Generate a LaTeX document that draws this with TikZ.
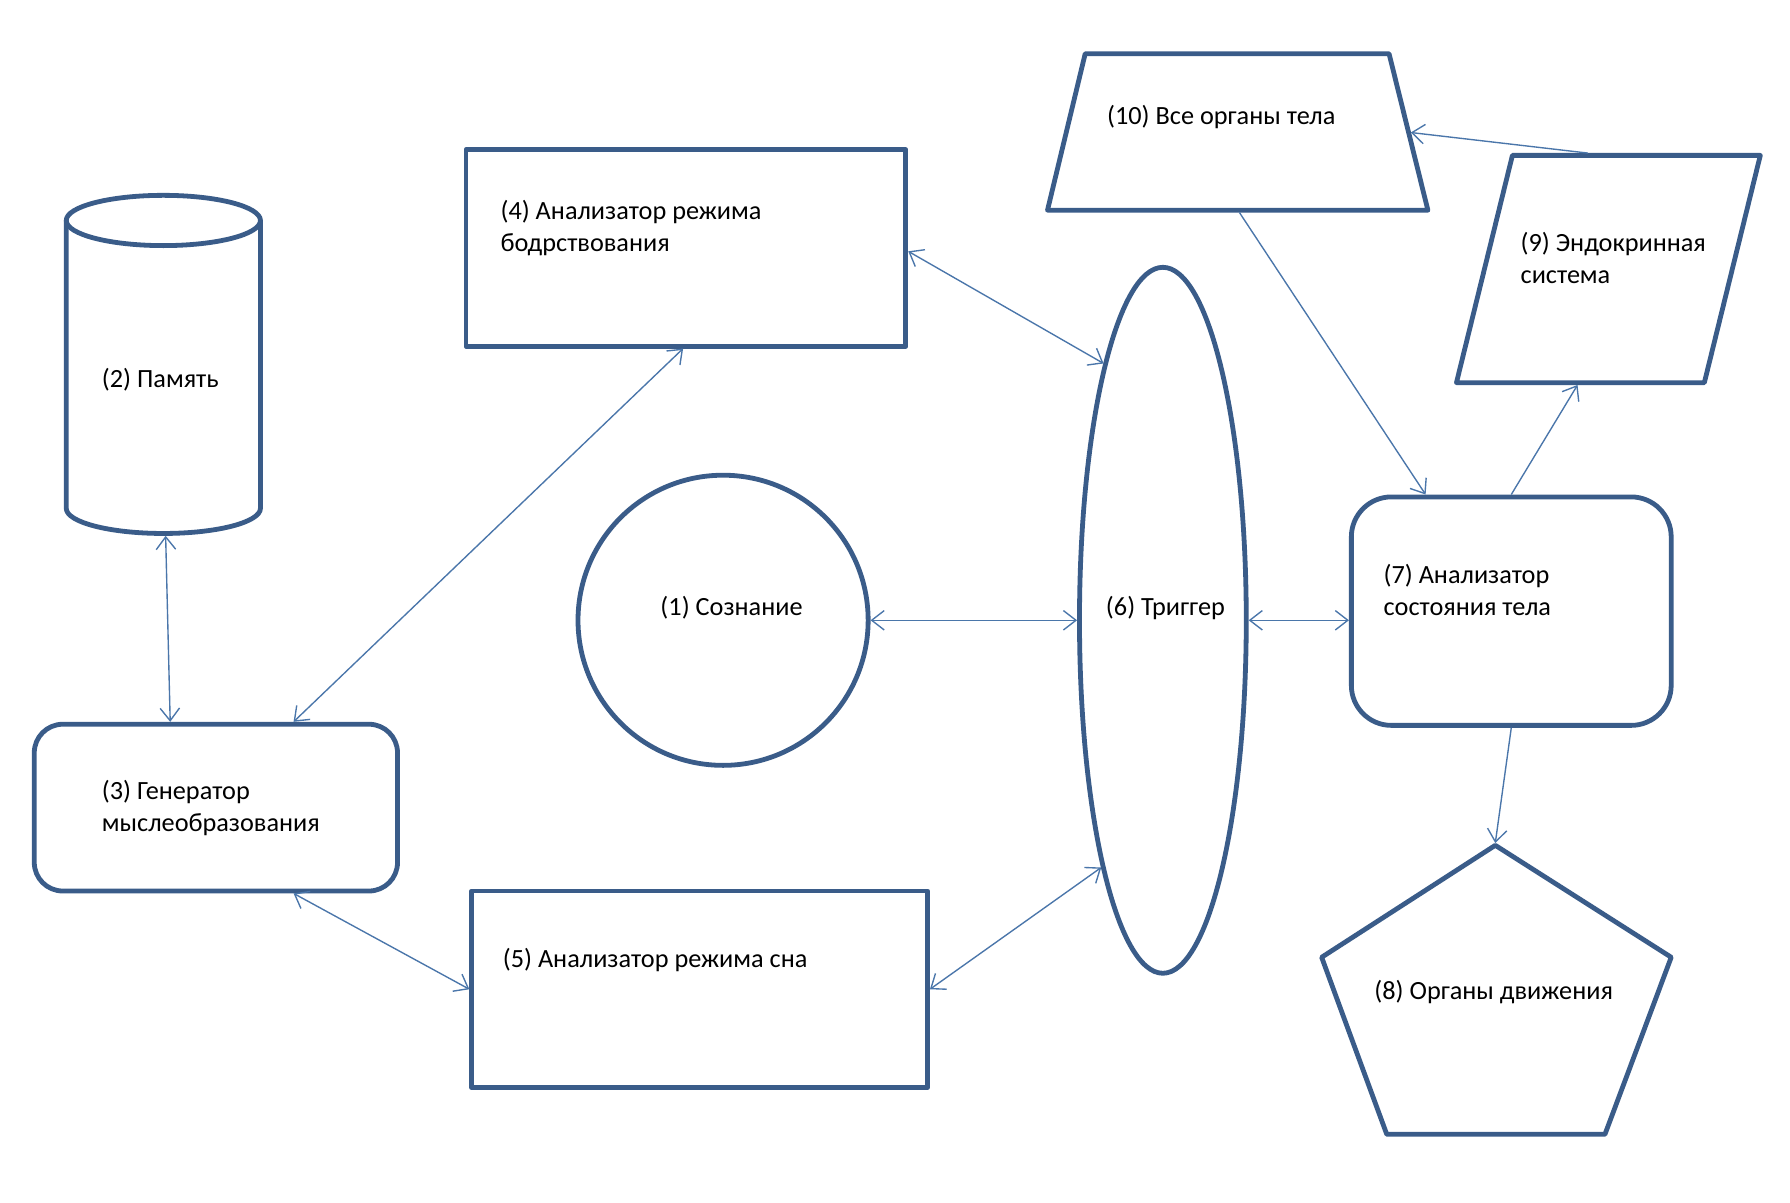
\documentclass[tikz,border=0pt]{standalone}
\usepackage{fontspec}
\setmainfont{Carlito}
\usetikzlibrary{arrows.meta,shapes.geometric,calc}
\definecolor{shapeblue}{HTML}{3A5C89}
\definecolor{linkblue}{HTML}{4A76AA}
\begin{document}
\begin{tikzpicture}[x=1pt,y=-1pt,
  shp/.style={draw=shapeblue, line width=4.2pt, line join=round},
  box/.style={shp, rectangle, inner sep=0pt},
  lbl/.style={anchor=base west, inner sep=0pt, align=left, font=\fontsize{23}{28}\selectfont},
  tip/.tip={Straight Barb[length=11pt,width=17pt]},
  link/.style={draw=linkblue, line width=1.2pt, tip-tip},
  link1/.style={draw=linkblue, line width=1.2pt, -tip},
]
\useasboundingbox[fill=white] (0,0) rectangle (1567,1053);

% shapes as nodes
\node[box, minimum width=385pt, minimum height=172pt] (n4) at (600.5,217) {};
\node[box, minimum width=399pt, minimum height=172pt] (n5) at (612.5,866) {};
\node[box, rounded corners=25pt, minimum width=318pt, minimum height=146pt] (n3) at (189,707) {};
\node[box, rounded corners=35pt, minimum width=280pt, minimum height=200pt] (n7) at (1323,535) {};
\node[shp, circle, inner sep=0pt, minimum size=254pt] (n1) at (633,543) {};
\node[shp, ellipse, inner sep=0pt, minimum width=146pt, minimum height=618pt] (n6) at (1018,543) {};

% cylinder (2)
\draw[shp] (143,193) ellipse[x radius=85, y radius=22];
\draw[shp] (58,193) -- (58,445) arc[start angle=180, end angle=0, x radius=85, y radius=22] -- (228,193);
\coordinate (n2b) at (145,469);

% pentagon (8)
\draw[shp] (1309,740) -- (1463,838) -- (1405,993) -- (1214,993) -- (1157,838) -- cycle;
\coordinate (n8t) at (1309,738);

% parallelogram (9)
\draw[shp] (1324,136) -- (1541,136) -- (1492,335) -- (1275,335) -- cycle;
\coordinate (n9b) at (1381,337);
\coordinate (n9t) at (1390,134);

% trapezium (10)
\draw[shp] (950,47) -- (1216,47) -- (1250,184) -- (917,184) -- cycle;
\coordinate (n10b) at (1085,186);
\coordinate (n10r) at (1235,116);

% labels (base anchor = baseline of the last line)
\node[lbl] (t2) at (89,339) {(2) Память};
\node[lbl] (t4) at (438,220) {(4) Анализатор режима\\бодрствования};
\node[lbl] (t1) at (578,539) {(1) Сознание};
\node[lbl] (t6) at (968,539) {(6) Триггер};
\node[lbl] (t3) at (89,728) {(3) Генератор\\мыслеобразования};
\node[lbl] (t5) at (440,847) {(5) Анализатор режима сна};
\node[lbl] (t7) at (1211,539) {(7) Анализатор\\состояния тела};
\node[lbl] (t8) at (1203,875) {(8) Органы движения};
\node[lbl] (t9) at (1331,248) {(9) Эндокринная\\система};
\node[lbl] (t10) at (969,109) {(10) Все органы тела};

% connectors
\draw[link] (n2b) -- ([xshift=-40pt]n3.north);
\draw[link] ([xshift=-2.5pt]n4.south) -- ([xshift=68pt]n3.north);
\draw[link] ([yshift=-3pt]n4.east) -- (n6.103.3);
\draw[link] (n1.east) -- (n6.west);
\draw[link] (n6.east) -- ([yshift=-8pt]n7.west);
\draw[link] ([xshift=68pt]n3.south) -- (n5.west);
\draw[link] (n5.east) -- (n6.256.5);
\draw[link1] (n10b) -- ([xshift=-75pt]n7.north);
\draw[link1] (n7.north) -- (n9b);
\draw[link1] (n9t) -- (n10r);
\draw[link1] (n7.south) -- (n8t);
\end{tikzpicture}
\end{document}
